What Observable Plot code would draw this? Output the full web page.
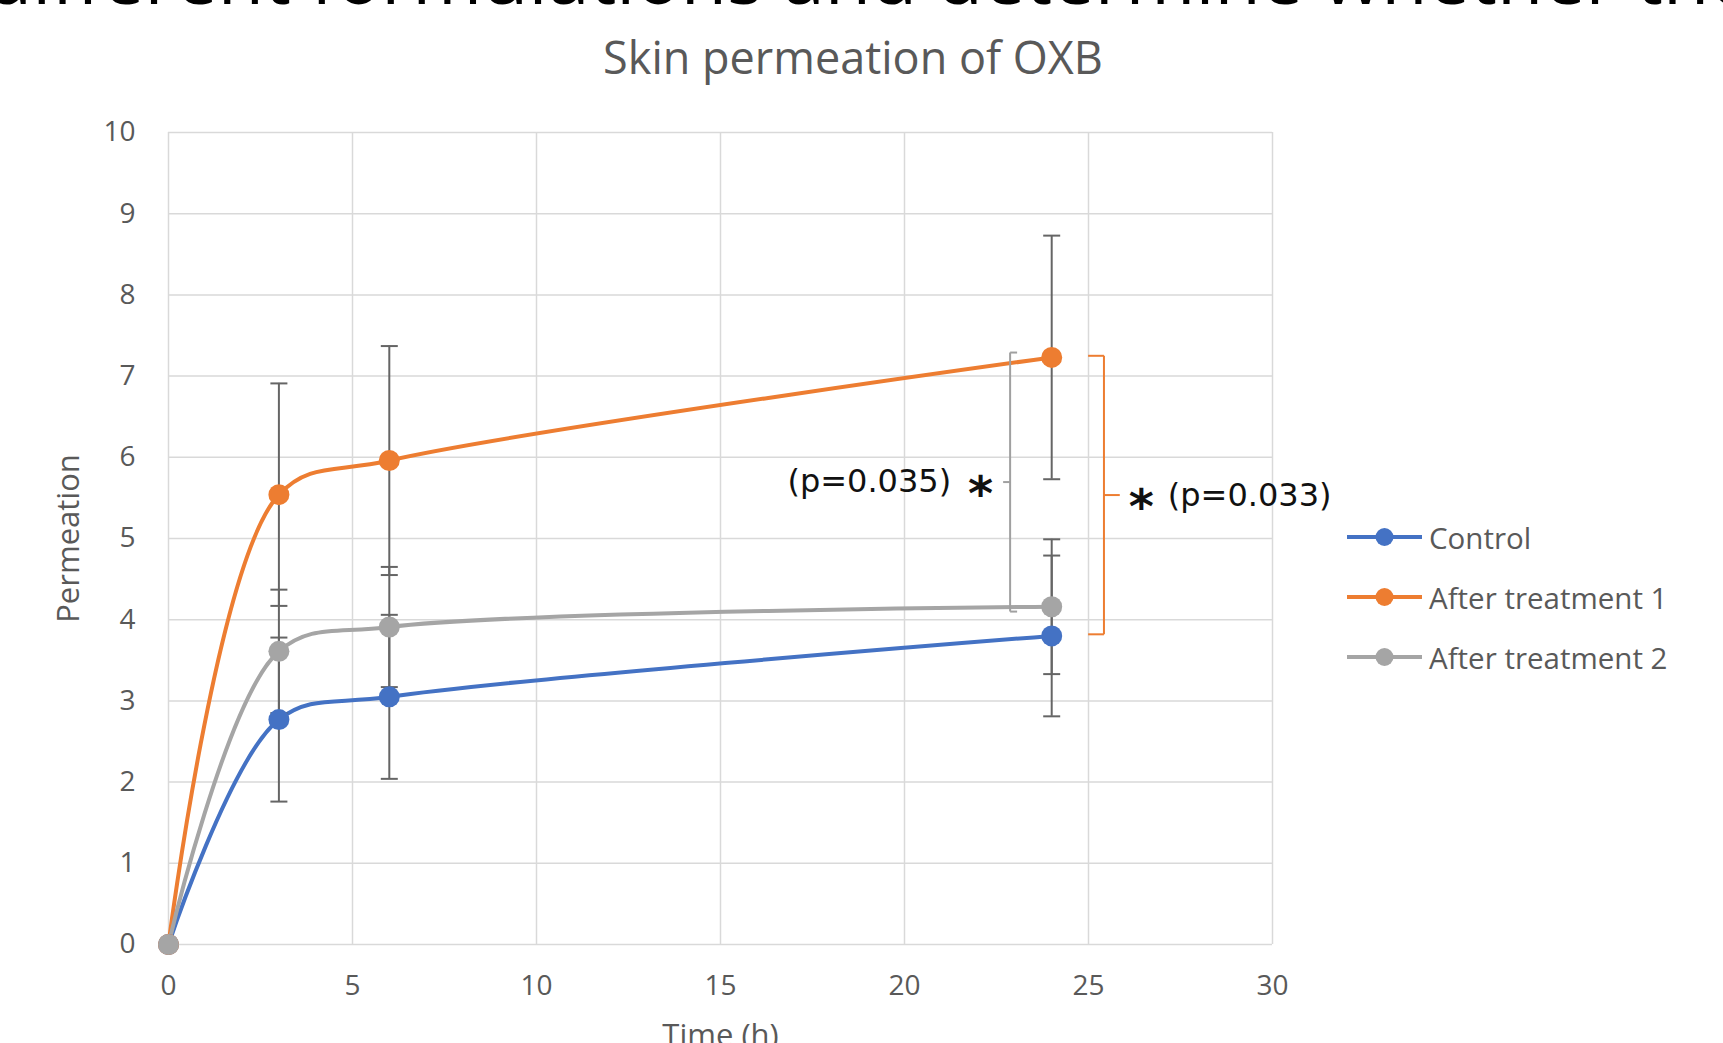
<!DOCTYPE html>
<html>
<head>
<meta charset="utf-8">
<script src="https://cdn.jsdelivr.net/npm/d3@7"></script>
<script src="https://cdn.jsdelivr.net/npm/@observablehq/plot@0.6"></script>
<style>
  html, body { margin: 0; padding: 0; background: #fff; }
  #page { position: relative; width: 1723px; height: 1043px; overflow: hidden; background: #fff; }
  #toptext { position: absolute; left: -14px; top: -63px; font-family: "Open Sans", sans-serif; font-size: 75.5px; line-height: 1; height: 70px; overflow: hidden; color: #000; white-space: nowrap; }
  #title { position: absolute; left: 0; width: 1706px; top: 34px; text-align: center; font-family: "Open Sans", sans-serif; font-size: 45px; line-height: 1; color: #595959; }
  #chart { position: absolute; left: 0; top: 0; }
  #legend { position: absolute; left: 1346px; top: 0; font-family: "Open Sans", sans-serif; font-size: 29.5px; color: #595959; }
  .row { position: absolute; left: 0; display: flex; align-items: center; white-space: nowrap; height: 30px; }
  .row svg { display: block; margin-right: 6px; }
</style>
</head>
<body>
<div id="page">
  <div id="toptext">different formulations and determine whether the</div>
  <div id="title">Skin permeation of OXB</div>
  <div id="chart"></div>
  <div id="legend"></div>
</div>
<script>
// ---- data ----
const times = [0, 3, 6, 24];
const seriesNames = ["Control", "After treatment 1", "After treatment 2"];
const seriesColors = ["#4472C4", "#ED7D31", "#A5A5A5"];
const control = [0, 2.77, 3.05, 3.80];
const treatment1 = [0, 5.54, 5.96, 7.23];
const treatment2 = [0, 3.61, 3.91, 4.16];
const controlErr = [0, 1.01, 1.01, 0.99];
const treatment1Err = [0, 1.37, 1.41, 1.50];
const treatment2Err = [0, 0.76, 0.74, 0.83];
const xTicks = [0, 5, 10, 15, 20, 25, 30];
const yTicks = [0, 1, 2, 3, 4, 5, 6, 7, 8, 9, 10];
const xLabel = "Time (h)";
const yLabel = "Permeation";
// significance brackets (between series at the last time point)
const brackets = [
  {a: "After treatment 1", b: "After treatment 2", label: "(p=0.035)", side: "left"},
  {a: "After treatment 1", b: "Control", label: "(p=0.033)", side: "right"}
];

const values = [control, treatment1, treatment2];
const errors = [controlErr, treatment1Err, treatment2Err];
const rows = [];
seriesNames.forEach((s, si) => times.forEach((t, i) => rows.push({series: s, t, v: values[si][i], err: errors[si][i]})));
const errRows = rows.filter(d => d.err > 0);
const capRows = errRows.flatMap(d => [{t: d.t, y: d.v + d.err}, {t: d.t, y: d.v - d.err}]);

const lastIdx = times.length - 1;
const lastT = times[lastIdx];
const valAt = name => values[seriesNames.indexOf(name)][lastIdx];
const segs = [];
const leftText = [];
const rightText = [];
brackets.forEach(b => {
  const top = Math.max(valAt(b.a), valAt(b.b));
  const bot = Math.min(valAt(b.a), valAt(b.b));
  if (b.side === "left") {
    const x = lastT - 1.13, hi = top + 0.06, lo = bot - 0.06, mid = (hi + lo) / 2, e = 0.19;
    const c = "#A0A0A0";
    segs.push({x1: x, y1: hi, x2: x, y2: lo, c}, {x1: x, y1: hi, x2: x + e, y2: hi, c},
              {x1: x, y1: lo, x2: x + e, y2: lo, c}, {x1: x, y1: mid, x2: x - e, y2: mid, c});
    leftText.push({x: x - e, y: mid, text: b.label});
  } else {
    const x = lastT + 1.42, hi = top + 0.02, lo = bot + 0.02, mid = (hi + lo) / 2, e = 0.43;
    const c = "#ED7D31";
    segs.push({x1: x, y1: hi, x2: x, y2: lo, c}, {x1: x, y1: hi, x2: x - e, y2: hi, c},
              {x1: x, y1: lo, x2: x - e, y2: lo, c}, {x1: x, y1: mid, x2: x + e, y2: mid, c});
    rightText.push({x: x + e, y: mid, text: b.label});
  }
});

const capSymbol = {draw(ctx) { ctx.moveTo(-8.5, 0); ctx.lineTo(8.5, 0); }};
const colorOf = s => seriesColors[seriesNames.indexOf(s)];
const gridStyle = {stroke: "#D9D9D9", strokeOpacity: 1, strokeWidth: 1.5};
const annoFont = {fontSize: 32, fill: "#111", fontFamily: "'DejaVu Sans', sans-serif"};
const starFont = {fontSize: 48, fontWeight: "bold", fill: "#111", fontFamily: "'DejaVu Sans', sans-serif"};

const chart = Plot.plot({
  width: 1723,
  height: 1043,
  marginLeft: 168,
  marginRight: 451,
  marginTop: 132,
  marginBottom: 99,
  style: {fontFamily: "'Open Sans', sans-serif", background: "transparent", overflow: "visible"},
  x: {domain: [0, 30]},
  y: {domain: [0, 10]},
  marks: [
    Plot.gridY(yTicks, gridStyle),
    Plot.gridX(xTicks, gridStyle),
    Plot.axisY(yTicks, {tickSize: 0, tickPadding: 33, fontSize: 28, fill: "#595959", label: null, tickFormat: d => String(d)}),
    Plot.axisX(xTicks, {tickSize: 0, tickPadding: 31, fontSize: 28, fill: "#595959", label: null, tickFormat: d => String(d)}),
    Plot.text([yLabel], {frameAnchor: "left", textAnchor: "middle", lineAnchor: "middle", dx: -99, rotate: -90, fontSize: 31, fill: "#595959"}),
    Plot.text([xLabel], {frameAnchor: "bottom", textAnchor: "middle", lineAnchor: "middle", dy: 92, fontSize: 31, fill: "#595959"}),
    Plot.line(rows, {x: "t", y: "v", z: "series", stroke: d => colorOf(d.series), strokeWidth: 4, curve: "catmull-rom"}),
    Plot.ruleX(errRows, {x: "t", y1: d => d.v - d.err, y2: d => d.v + d.err, stroke: "#656565", strokeWidth: 2}),
    Plot.dot(capRows, {x: "t", y: "y", symbol: capSymbol, fill: "none", stroke: "#656565", strokeWidth: 2}),
    Plot.dot(rows, {x: "t", y: "v", r: 10.5, fill: d => colorOf(d.series), stroke: "none"}),
    Plot.link(segs, {x1: "x1", y1: "y1", x2: "x2", y2: "y2", stroke: d => d.c, strokeWidth: 2}),
    Plot.text(leftText, {x: "x", y: "y", text: "text", textAnchor: "end", lineAnchor: "middle", dx: -52, ...annoFont}),
    Plot.text(leftText, {x: "x", y: "y", text: () => "*", textAnchor: "end", lineAnchor: "middle", dx: -10, dy: 13, ...starFont}),
    Plot.text(rightText, {x: "x", y: "y", text: "text", textAnchor: "start", lineAnchor: "middle", dx: 48, dy: 1, ...annoFont}),
    Plot.text(rightText, {x: "x", y: "y", text: () => "*", textAnchor: "start", lineAnchor: "middle", dx: 9, dy: 13, ...starFont})
  ]
});
document.getElementById("chart").append(chart);

// ---- legend ----
const legend = document.getElementById("legend");
const legendY = [537, 597, 657];
seriesNames.forEach((s, i) => {
  const row = document.createElement("div");
  row.className = "row";
  row.style.top = (legendY[i] - 15) + "px";
  row.innerHTML = `<svg width="77" height="24"><line x1="1" y1="12" x2="76" y2="12" stroke="${seriesColors[i]}" stroke-width="4"/><circle cx="38.5" cy="12" r="9" fill="${seriesColors[i]}"/></svg><span>${s}</span>`;
  legend.append(row);
});
</script>
</body>
</html>
